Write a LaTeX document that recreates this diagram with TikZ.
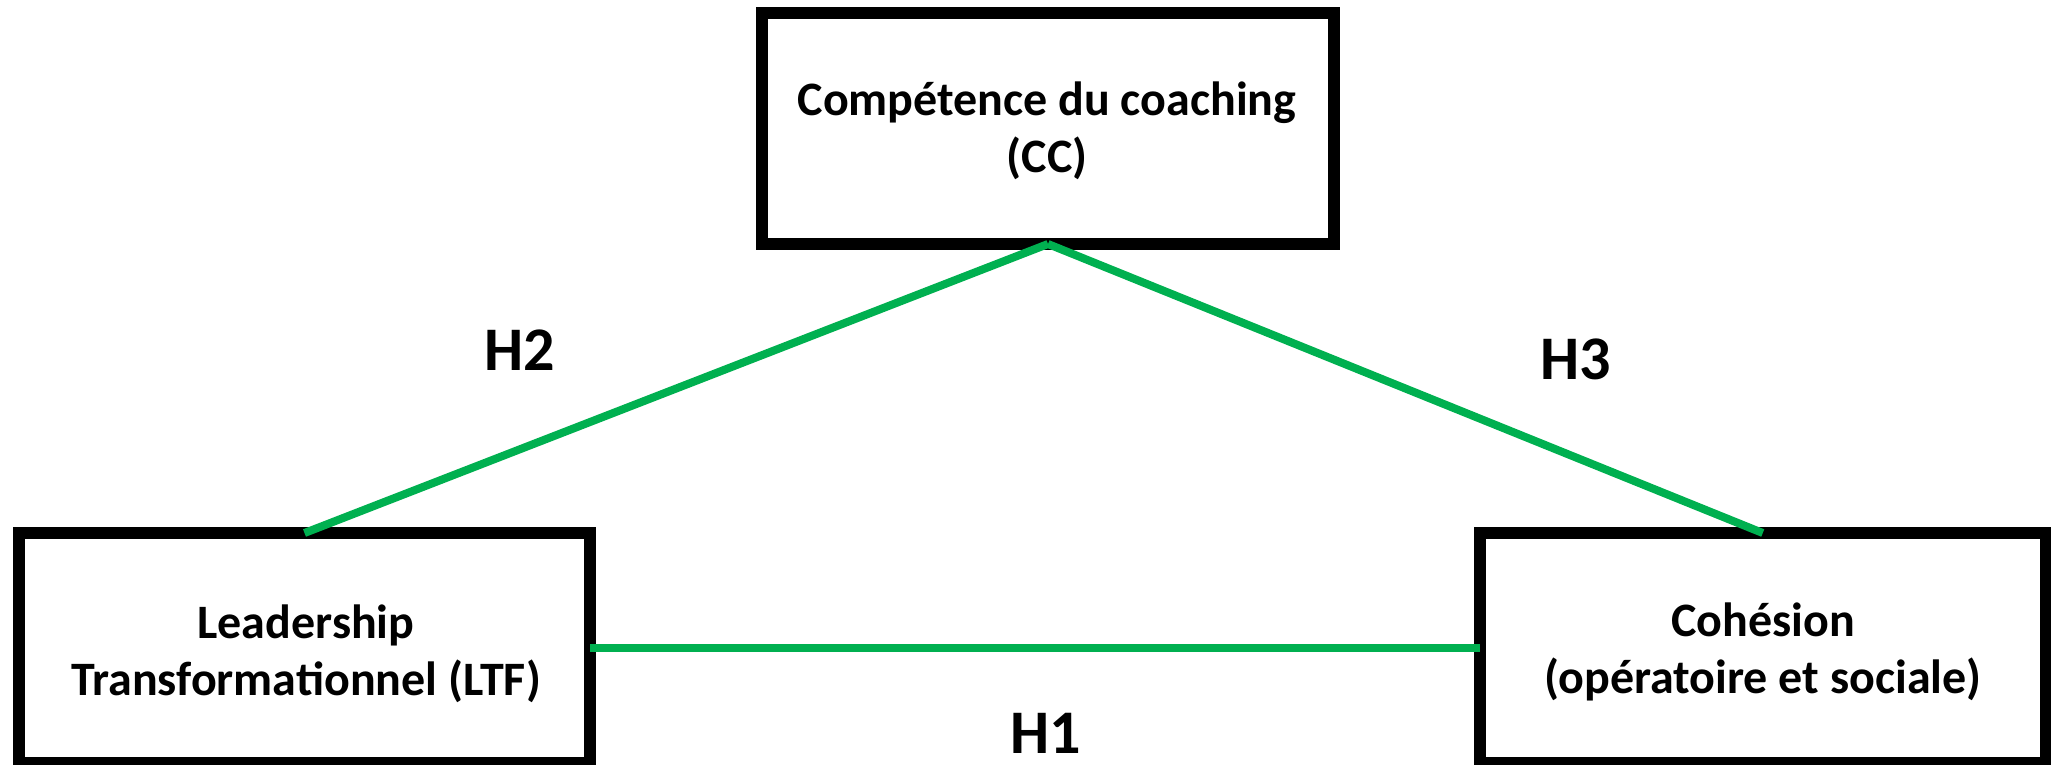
\documentclass[tikz,border=0pt]{standalone}
\usepackage{fontspec}
\setmainfont{Carlito}
\definecolor{hgreen}{RGB}{0,176,80}
\begin{document}
\begin{tikzpicture}[x=1pt,y=-1pt,
  box/.style={draw=black, line width=12pt, rectangle, inner sep=0pt, outer sep=0pt},
  boxtext/.style={font=\bfseries\fontsize{48}{57}\selectfont, align=center, inner sep=0pt},
  hyp/.style={font=\bfseries\fontsize{62}{70}\selectfont, inner sep=0pt},
  link/.style={draw=hgreen, line width=8pt}]
\useasboundingbox (0,0) rectangle (2051,764);
\node[box, minimum width=572pt, minimum height=231pt] (cc) at (1048,128.5) {};
\node[box, minimum width=571pt, minimum height=230pt] (ltf) at (304.5,648) {};
\node[box, minimum width=565.5pt, minimum height=230pt] (coh) at (1762.75,648) {};
\node[boxtext] (cctext) at (1047,133) {\strut Compétence du coaching\\\strut (CC)};
\node[boxtext] (ltftext) at (306,656) {\strut Leadership\\\strut Transformationnel (LTF)};
\node[boxtext] (cohtext) at (1763,654) {\strut Cohésion\\\strut (opératoire et sociale)};
\draw[link] (cc.south) -- (ltf.north);
\draw[link] (cc.south) -- (coh.north);
\draw[link] (ltf.east) -- (coh.west);
\node[hyp] (h1) at (1046,733) {H1};
\node[hyp] (h2) at (520,350) {H2};
\node[hyp] (h3) at (1576,359) {H3};
\end{tikzpicture}
\end{document}
